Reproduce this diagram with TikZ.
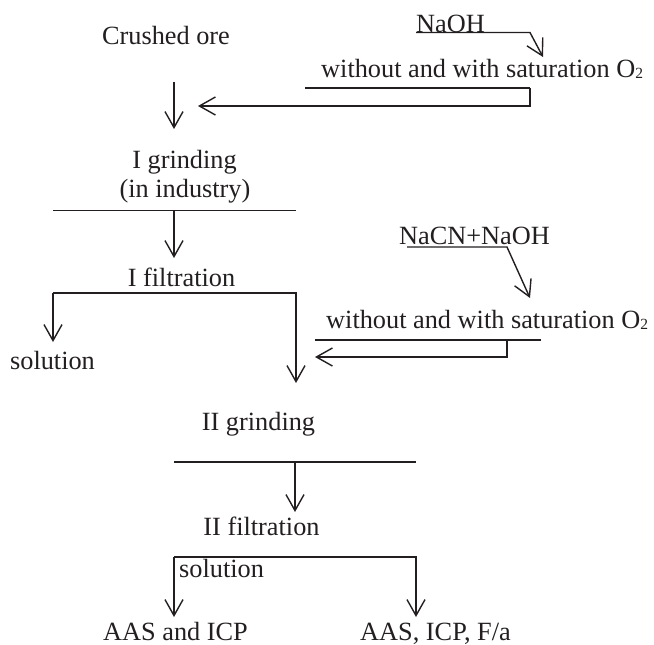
\documentclass[tikz,border=0pt]{standalone}
\usepackage{fontspec}
\setmainfont{Liberation Serif}
\usetikzlibrary{arrows.meta}
\definecolor{ink}{RGB}{35,31,32}
\newcommand\myOtwo{O\raisebox{-1.5pt}{\fontsize{15.5}{15.5}\selectfont 2}}
\begin{document}
\begin{tikzpicture}[x=1pt,y=-1pt,
  txt/.style={inner sep=0pt, anchor=base, text=ink, font=\fontsize{26.3}{30}\selectfont},
  ln/.style={draw=ink, line width=1.4pt, line join=miter},
  arr/.style={ln, -{Straight Barb[length=16pt,width=18pt]}}]
\useasboundingbox (0,0) rectangle (654,645);

% texts
\node[txt] (ore) at (166,44) {Crushed ore};
\node[txt, anchor=base west] (naoh) at (416,32) {NaOH};
\node[txt, anchor=base west] (sat1) at (321,77) {without and with saturation \myOtwo};
\node[txt] (grind1) at (184.5,168) {I grinding};
\node[txt] (ind) at (185,197) {(in industry)};
\node[txt] (filt1) at (181.5,286) {I filtration};
\node[txt] (sol1) at (52.5,369) {solution};
\node[txt, anchor=base west] (nacn) at (399,244) {NaCN+NaOH};
\node[txt, anchor=base west] (sat2) at (326,328) {without and with saturation \myOtwo};
\node[txt] (grind2) at (258.5,430) {II grinding};
\node[txt] (filt2) at (261.5,535) {II filtration};
\node[txt, anchor=base west] (sol2) at (179,577) {solution};
\node[txt] (aas1) at (175.5,640) {AAS and ICP};
\node[txt] (aas2) at (435.5,640) {AAS, ICP, F/a};

% coordinates
\coordinate (n1a) at (416,32.5);
\coordinate (n1b) at (530,32.5);
\coordinate (n1t) at (543,57);
\coordinate (b1a) at (305,88);
\coordinate (b1b) at (530,88);
\coordinate (b1c) at (530,106);
\coordinate (b1t) at (198,106);
\coordinate (d1a) at (174,82);
\coordinate (d1b) at (174,129);
\coordinate (g1l) at (53,210.7);
\coordinate (g1r) at (296,210.7);
\coordinate (g1m) at (174,210.7);
\coordinate (g1t) at (174,258);
\coordinate (f1l) at (53,293);
\coordinate (f1r) at (296,293);
\coordinate (f1lt) at (53,342);
\coordinate (f1rt) at (296,383);
\coordinate (n2a) at (407,247);
\coordinate (n2b) at (507,247);
\coordinate (n2t) at (530,298);
\coordinate (b2a) at (315,340);
\coordinate (b2b) at (541,340);
\coordinate (b2c) at (507,340);
\coordinate (b2d) at (507,357);
\coordinate (b2t) at (315,357);
\coordinate (g2l) at (174,462);
\coordinate (g2r) at (416,462);
\coordinate (g2m) at (295,462);
\coordinate (g2t) at (295,512);
\coordinate (f2l) at (174,557);
\coordinate (f2r) at (416,557);
\coordinate (f2lt) at (174,617);
\coordinate (f2rt) at (416,617);

% connectors
\draw[arr] (n1a) -- (n1b) -- (n1t);
\draw[ln] (b1a) -- (b1b);
\draw[arr] (b1b) -- (b1c) -- (b1t);
\draw[arr] (d1a) -- (d1b);
\draw[ln] (g1l) -- (g1r);
\draw[arr] (g1m) -- (g1t);
\draw[arr] (f1l) -- (f1lt);
\draw[arr] (f1l) -- (f1r) -- (f1rt);
\draw[arr] (n2a) -- (n2b) -- (n2t);
\draw[ln] (b2a) -- (b2b);
\draw[arr] (b2c) -- (b2d) -- (b2t);
\draw[ln] (g2l) -- (g2r);
\draw[arr] (g2m) -- (g2t);
\draw[arr] (f2l) -- (f2lt);
\draw[arr] (f2l) -- (f2r) -- (f2rt);
\end{tikzpicture}
\end{document}
